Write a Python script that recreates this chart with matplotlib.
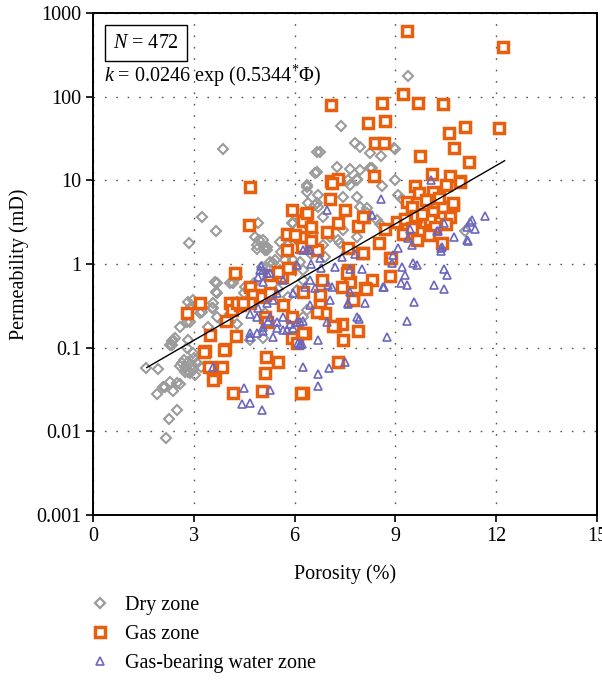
import numpy as np
import matplotlib
matplotlib.use("Agg")
import matplotlib.pyplot as plt
from matplotlib.lines import Line2D

plt.rcParams['font.family'] = ['Liberation Serif', 'DejaVu Serif']
plt.rcParams['mathtext.fontset'] = 'custom'
plt.rcParams['mathtext.rm'] = 'Liberation Serif'
plt.rcParams['mathtext.it'] = 'Liberation Serif:italic'

# porosity (%), permeability (mD)
dry_phi = [1.58, 1.93, 2.08, 1.9, 2.29, 2.59, 2.38, 2.5, 2.26, 2.17, 2.14, 2.5,
           2.59, 2.74, 2.83, 2.98, 3.10, 2.74, 2.89, 3.04, 2.83, 2.65, 2.95, 3.2, 2.7, 3.0,
           2.98, 2.44, 2.35, 2.83, 2.59, 2.89, 3.24, 3.54, 3.63, 3.69, 3.57, 3.10, 2.83,
           3.69, 3.42, 4.08, 4.29, 5.03, 5.36, 5.57, 4.88, 5.18, 4.08, 3.87, 4.29, 5.06,
           4.67, 5.12, 5.65, 6.07, 6.25, 5.95, 2.35, 2.8, 2.86, 3.24, 3.66, 3.87, 4.91,
           4.94, 4.88, 5.12, 3.69, 3.66, 4.17, 4.52, 3.57, 2.89, 2.98, 3.18, 2.80, 2.38,
           2.29, 4.08, 6.67, 6.61, 6.37, 6.37, 6.61, 4.82, 5.12, 5.92, 6.46, 6.55, 6.40,
           7.38, 6.76, 7.8, 7.95, 8.24, 8.57, 8.99, 6.67, 7.26, 7.65, 7.95, 8.24, 7.59,
           7.86, 7.44, 7.86, 6.67, 8.15, 9.08, 8.54, 6.85, 7.44, 7.86, 7.35, 9.38, 11.07,
           7.65, 7.86, 6.37, 6.7, 6.4, 6.7, 7.95, 8.15, 8.45, 6.16, 5.95, 7.05, 7.29, 6.85,
           5.06, 5.18, 5.57, 5.42, 5.27, 5.71, 6.16, 6.25, 6.37, 6.25, 8.3, 8.96, 9.0,
           9.2, 8.6, 4.5, 4.8, 5.5, 5.8, 4.3, 5.6, 5.8, 6.1, 6.5, 6.9]
dry_k = [0.057, 0.056, 0.034, 0.028, 0.039, 0.037, 0.030, 0.018, 0.014, 0.0083, 0.034, 0.038,
         0.060, 0.059, 0.068, 0.054, 0.066, 0.051, 0.050, 0.047, 0.051, 0.065, 0.062, 0.058, 0.072, 0.075,
         0.087, 0.13, 0.12, 0.124, 0.176, 0.20, 0.27, 0.30, 0.61, 0.45, 0.34, 0.32, 0.35,
         0.23, 0.176, 0.59, 0.70, 0.92, 1.03, 0.85, 1.69, 1.47, 0.25, 0.20, 0.19, 0.13,
         0.124, 0.26, 0.70, 0.49, 0.64, 1.12, 0.108, 0.10, 1.78, 3.65, 2.5, 23.6, 3.1,
         1.94, 1.5, 1.47, 0.59, 0.46, 0.60, 0.53, 0.30, 0.30, 0.37, 0.26, 0.20, 0.124,
         0.108, 0.20, 21.8, 12.2, 8.3, 7.2, 5.1, 2.1, 1.6, 3.1, 2.7, 2.35, 1.78,
         44, 22, 28, 25, 21, 19.5, 23.6, 12.6, 14.4, 13.7, 13.3, 14, 10,
         10.3, 6.3, 6.3, 5.4, 4.7, 6.7, 3.0, 3.6, 2.55, 2.1, 1.8, 177, 2.5,
         8.8, 10, 8.8, 6.7, 5.3, 4.8, 4.8, 4.1, 3.35, 3.35, 3.1, 2.1, 1.94, 1.69,
         1.94, 1.6, 1.83, 1.12, 1.06, 1.12, 1.06, 0.85, 0.28, 0.23, 14, 24, 10,
         6.0, 8.5, 0.45, 0.6, 0.5, 0.4, 0.35, 1.4, 1.7, 1.9, 1.3, 1.2]

gas_phi = [9.35, 12.2, 7.08, 8.6, 9.23, 9.67, 10.42, 8.18, 8.69, 11.07, 12.08, 10.6,
           8.39, 8.66, 10.74, 9.73, 11.19, 8.36, 7.08, 7.29, 10.09, 10.63, 10.92, 9.58,
           7.05, 7.5, 8.07, 7.29, 7.89, 6.96, 9.35, 9.5, 9.05, 9.88, 10.12, 10.42, 10.71,
           10.63, 10.39, 9.23, 9.64, 10.03, 10.18, 10.5, 10.12, 10.71, 10.92, 9.7, 9.9,
           10.3, 9.6, 4.67, 4.64, 5.92, 6.34, 6.25, 5.77, 6.19, 7.11, 6.37, 8.04, 5.77,
           6.67, 7.59, 8.0, 8.84, 5.27, 5.86, 5.63, 6.82, 7.59, 7.65, 8.3, 8.84, 7.41,
           8.1, 6.25, 6.76, 7.74, 5.65, 5.12, 6.76, 6.9, 5.92, 7.41, 7.2, 7.89, 6.31,
           7.44, 5.92, 5.12, 5.18, 7.29, 6.25, 7.14, 6.67, 7.74, 8.12, 7.56, 8.87, 8.04,
           4.23, 3.18, 2.8, 3.48, 4.26, 3.93, 3.33, 3.45, 3.84, 3.63, 3.57, 4.17, 5.03,
           5.12, 5.15, 5.51, 6.19, 4.08, 4.14, 3.96, 4.67, 4.76, 4.38, 4.67, 5.03, 5.27,
           5.8, 6.22, 6.25, 6.07, 5.51, 3.9, 3.3, 4.29, 4.46, 8.7, 9.3, 9.8, 10.5, 10.0,
           9.5, 8.5, 6.0, 6.5, 6.5]
gas_k = [600, 390, 80, 83, 107, 83, 81, 48, 51, 43, 42, 37,
         28, 28, 24, 19.5, 16.5, 11.2, 9.8, 10.3, 11.9, 11.2, 9.8, 8.5,
         6.0, 4.4, 3.6, 3.1, 2.85, 2.4, 5.5, 4.8, 3.2, 3.2, 4.2, 4.8, 5.1,
         3.6, 1.78, 2.3, 1.94, 3.35, 2.8, 8.8, 7.3, 5.3, 9.5, 7.0, 5.8,
         6.2, 3.7, 8.3, 2.9, 4.4, 3.95, 3.25, 2.28, 2.1, 9.3, 4.1, 3.65, 1.47,
         1.47, 1.55, 1.35, 1.18, 0.74, 0.90, 0.70, 0.64, 0.85, 0.61, 0.64, 0.72, 0.53,
         0.52, 0.46, 0.43, 0.39, 0.32, 0.43, 0.32, 0.26, 0.23, 0.19, 0.18, 0.16, 0.15,
         0.124, 0.13, 0.23, 0.20, 0.068, 0.029, 0.18, 0.27, 0.37, 0.5, 0.78, 1.18, 1.35,
         0.78, 0.34, 0.26, 0.142, 0.138, 0.097, 0.092, 0.059, 0.058, 0.045, 0.041, 0.029, 0.030,
         0.050, 0.077, 0.068, 0.029, 0.34, 0.28, 0.21, 0.53, 0.43, 0.32, 0.34, 0.40, 0.45,
         0.9, 1.6, 0.15, 0.114, 0.8, 0.094, 0.089, 0.34, 0.34, 2.6, 3.4, 4.0, 3.0, 2.2,
         2.7, 1.8, 2.2, 2.8, 1.9]

water_phi = [8.57, 8.3, 6.96, 10.06, 9.43, 9.38, 10.27, 10.45, 10.74, 11.16, 11.13, 11.28,
             11.37, 11.67, 9.08, 10.39, 11.22, 11.13, 10.24, 10.36, 10.36, 10.45, 10.54,
             10.15, 10.45, 6.37, 6.76, 9.5, 8.93, 8.9, 9.2, 9.52, 9.64, 9.29, 9.17, 9.35,
             8.66, 9.55, 9.35, 8.75, 7.65, 8.0, 7.65, 8.1, 7.59, 7.05, 7.86, 7.92, 6.96,
             6.25, 6.7, 6.22, 7.5, 7.02, 6.7, 6.25, 6.7, 3.57, 4.49, 4.43, 4.67, 5.03,
             5.27, 6.16, 4.97, 4.91, 4.67, 4.88, 4.67, 4.88, 5.06, 6.25, 6.46, 7.2, 6.07,
             5.65, 6.46, 6.61, 7.0, 7.1, 8.63, 5.27, 5.06, 5.95, 6.46, 7.59, 5.27, 5.65,
             5.86, 6.16, 5.48, 5.06, 6.1, 5.18, 5.06, 6.31, 5.48, 5.36, 5.18, 4.91, 5.21,
             5.48, 6.07, 5.77, 4.67, 5.36, 5.65, 5.95, 6.16, 5.0, 6.5, 6.8, 7.4, 7.8]
water_k = [6.0, 3.85, 4.4, 10, 2.6, 2.05, 2.5, 3.1, 2.1, 1.88, 2.8, 3.35,
           2.6, 3.75, 1.55, 1.6, 3.2, 1.94, 2.5, 1.55, 1.43, 0.87, 0.74,
           0.56, 0.50, 1.47, 1.18, 1.69, 1.28, 1.03, 0.92, 1.03, 0.97, 0.74, 0.59, 0.56,
           0.53, 0.35, 0.21, 0.134, 0.87, 0.87, 0.46, 0.34, 0.33, 0.37, 0.23, 0.22, 0.20,
           0.21, 0.124, 0.11, 0.068, 0.057, 0.048, 0.059, 0.035, 0.059, 0.033, 0.021, 0.022, 0.018,
           0.031, 0.11, 0.85, 0.70, 0.25, 0.23, 0.15, 0.15, 0.16, 1.47, 1.47, 0.92, 0.97,
           0.64, 0.64, 0.52, 0.56, 0.53, 0.53, 0.78, 0.85, 0.45, 0.32, 0.34, 0.23, 0.23,
           0.19, 0.20, 0.17, 0.176, 0.114, 0.78, 0.61, 0.53, 0.45, 0.37, 0.34, 0.30, 0.21,
           0.20, 0.20, 0.163, 0.134, 0.134, 0.163, 0.17, 0.108, 0.95, 1.0, 0.9, 1.2, 1.3]

fit_a, fit_b = 0.0246, 0.5344
fit_range = [1.6, 12.25]

y_ticks = [0.001, 0.01, 0.1, 1, 10, 100, 1000]
y_labels = ['0.001', '0.01', '0.1', '1', '10', '100', '1000']
x_ticks = [0, 3, 6, 9, 12, 15]

c_dry = '#9b9b9b'
c_gas = '#e8600e'
c_water = '#6a67bd'
fs = 14.5

fig = plt.figure(figsize=(6.02, 6.80), dpi=100)
ax = fig.add_axes([0.1545, 0.2426, 0.8372, 0.7384])

ax.plot(dry_phi, dry_k, 'D', ms=4.8, mfc='none', mec=c_dry, mew=1.5, ls='none')
ax.plot(gas_phi, gas_k, 's', ms=7.4, mfc='white', mec=c_gas, mew=2.5, ls='none')
ax.plot(water_phi, water_k, '^', ms=6.3, mfc='none', mec=c_water, mew=1.2, ls='none')

xf = np.linspace(fit_range[0], fit_range[1], 100)
ax.plot(xf, fit_a * np.exp(fit_b * xf), color='black', lw=1.0)

ax.set_yscale('log')
ax.set_xlim(0, 15)
ax.set_ylim(0.001, 1000)
ax.set_xticks(x_ticks)
ax.set_yticks(y_ticks)
ax.set_yticklabels(y_labels)
ax.yaxis.set_minor_locator(plt.NullLocator())
ax.tick_params(direction='out', length=5, width=1.2, labelsize=fs)
for s in ax.spines.values():
    s.set_linewidth(1.4)
ax.grid(True, which='major', color='#555555', ls=(0, (1.2, 7)), lw=1.0)

ax.set_xlabel('Porosity (%)', fontsize=fs, labelpad=13)
ax.set_ylabel('Permeability (mD)', fontsize=fs, labelpad=5)

ax.text(0.105, 0.940, r'$N$ = 472', transform=ax.transAxes, fontsize=fs,
        va='center', ha='center',
        bbox=dict(boxstyle='square,pad=0.4', fc='white', ec='black', lw=1))
ax.text(0.022, 0.8745, r'$k$ = 0.0246 exp (0.5344$^{*}$Φ)', transform=ax.transAxes,
        fontsize=fs, va='center', ha='left')

handles = [
    Line2D([], [], marker='D', ms=5.5, mfc='none', mec=c_dry, mew=1.6, ls='none'),
    Line2D([], [], marker='s', ms=7.4, mfc='white', mec=c_gas, mew=2.5, ls='none'),
    Line2D([], [], marker='^', ms=6.3, mfc='none', mec=c_water, mew=1.2, ls='none'),
]
fig.legend(handles, ['Dry zone', 'Gas zone', 'Gas-bearing water zone'],
           loc='upper left', bbox_to_anchor=(0.136, 0.136), frameon=False,
           fontsize=fs, handlelength=1.0, handletextpad=0.75, labelspacing=0.5,
           borderaxespad=0)

fig.savefig('out.png', dpi=100)
